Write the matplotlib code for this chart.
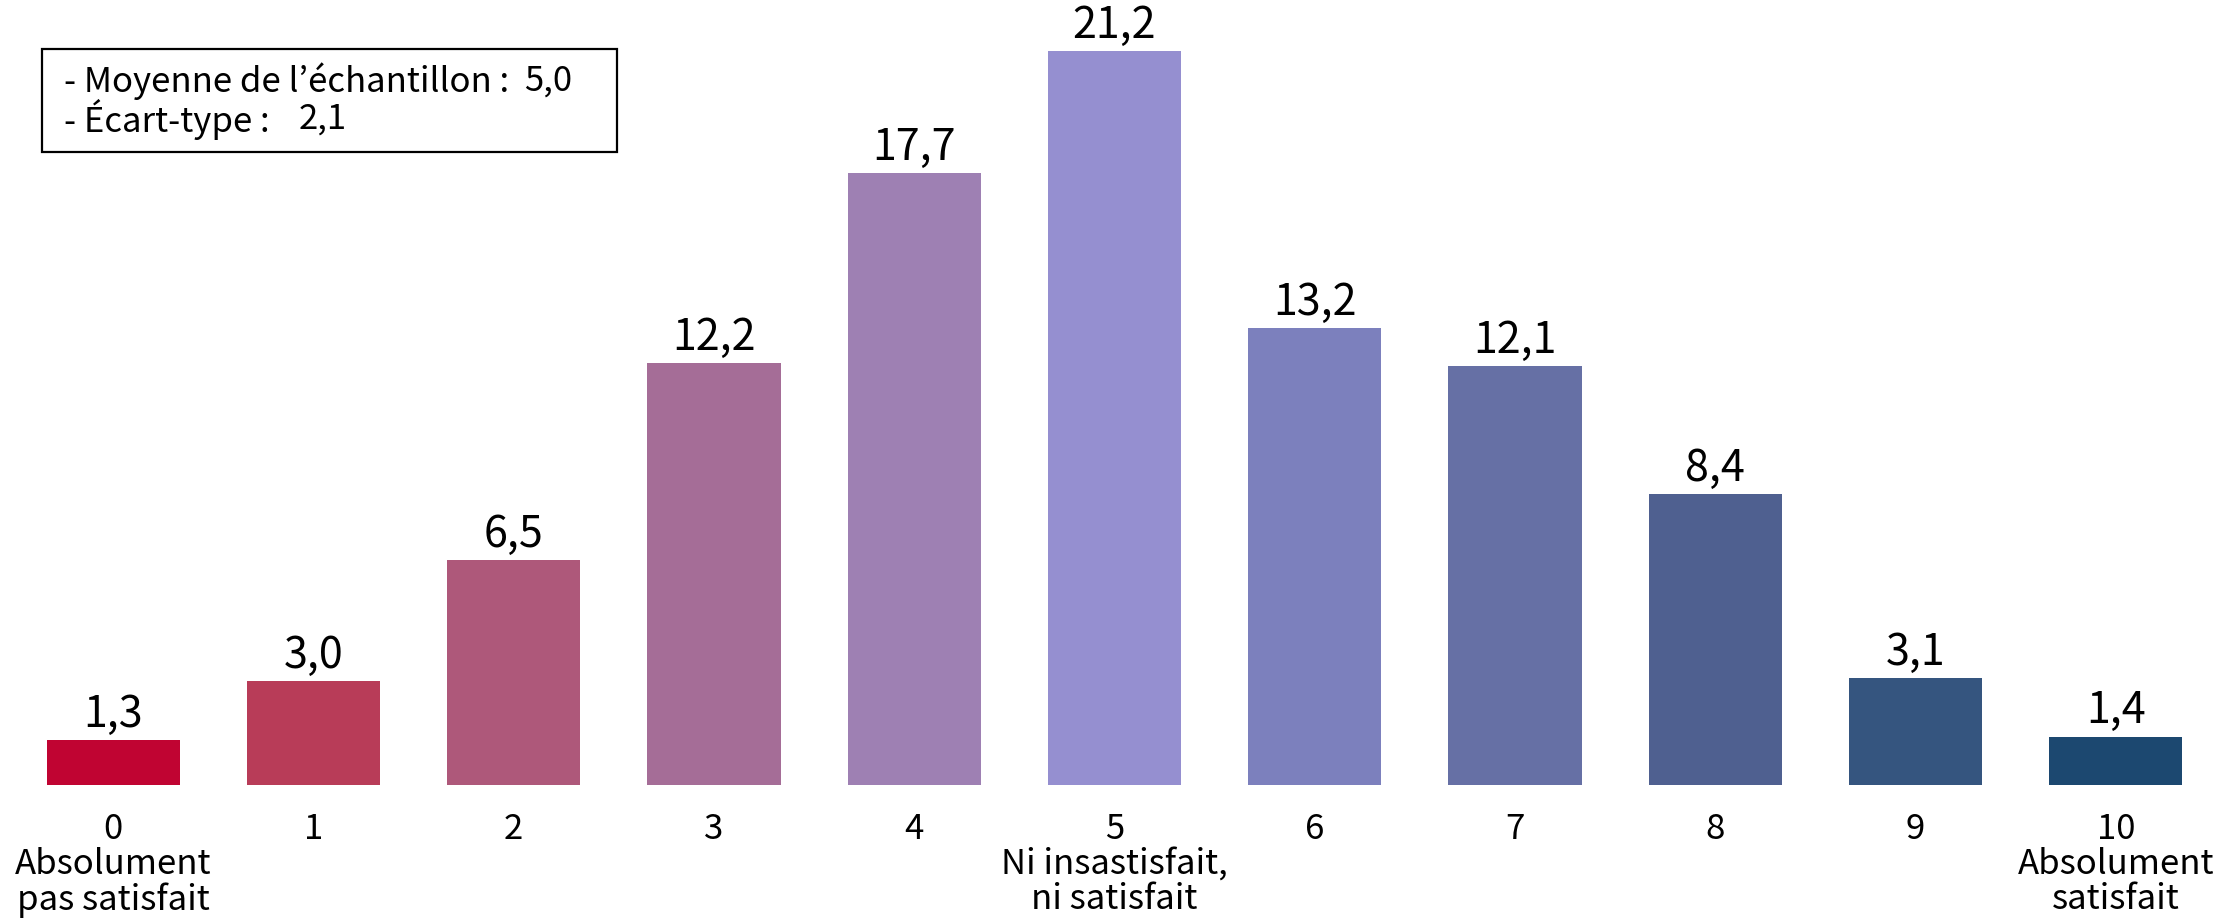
import matplotlib
matplotlib.use('Agg')
import matplotlib.pyplot as plt
from matplotlib.patches import Rectangle

plt.rcParams['font.family'] = ['Noto Sans CJK JP', 'DejaVu Sans']

# data
scores = list(range(11))
values = [1.3, 3.0, 6.5, 12.2, 17.7, 21.2, 13.2, 12.1, 8.4, 3.1, 1.4]
tick_labels = ['0\nAbsolument\npas satisfait', '1', '2', '3', '4',
               '5\nNi insastisfait,\nni satisfait', '6', '7', '8', '9',
               '10\nAbsolument\nsatisfait']
colors = ['#C00432', '#B83C58', '#AE587A', '#A56D97', '#9E80B3', '#958FD0',
          '#7C80BD', '#6670A5', '#4F6090', '#35557F', '#1C4870']
mean_value = '5,0'
std_value = '2,1'

W, H = 2219, 920
fig = plt.figure(figsize=(W / 100, H / 100), dpi=100)
# axes placed in pixel terms: baseline at y=786 from top
ax = fig.add_axes([13 / W, (H - 786) / H, 2203 / W, 786 / H])

ax.bar(scores, values, width=0.665, color=colors)
ax.set_xlim(-0.5, 10.5)
ax.set_ylim(0, 786 / 34.6)

for x, v in zip(scores, values):
    ax.annotate(f'{v:.1f}'.replace('.', ','), (x, v), xytext=(0, 3),
                textcoords='offset points', ha='center', va='bottom',
                fontsize=31, color='black')

ax.set_xticks(scores)
ax.set_xticklabels(tick_labels, fontsize=25, linespacing=1.0)
ax.tick_params(axis='x', length=0, pad=19)
ax.set_yticks([])
for s in ax.spines.values():
    s.set_visible(False)

# stats box
fig.patches.append(Rectangle((42 / W, 1 - 153 / H), 575 / W, 103 / H,
                             transform=fig.transFigure, fill=False,
                             edgecolor='black', linewidth=1.6))
fig.text(64 / W, 1 - 81 / H, '- Moyenne de l\u2019échantillon :', fontsize=25,
         va='center', ha='left')
fig.text(524 / W, 1 - 81 / H, mean_value, fontsize=25, va='center', ha='left')
fig.text(64 / W, 1 - 119 / H, '- Écart-type :', fontsize=25,
         va='center', ha='left')
fig.text(299 / W, 1 - 119 / H, std_value, fontsize=25, va='center', ha='left')

fig.savefig('out.png', dpi=100)
